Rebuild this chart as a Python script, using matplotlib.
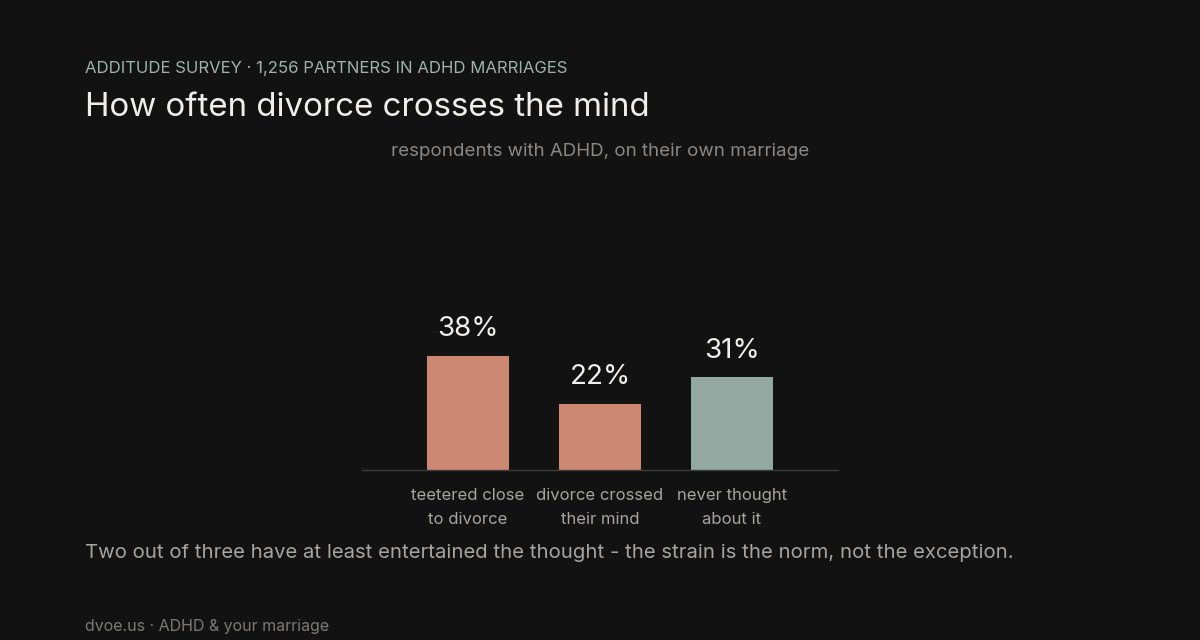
import matplotlib.pyplot as plt

# Data
categories = ["teetered close\nto divorce", "divorce crossed\ntheir mind", "never thought\nabout it"]
values = [38, 22, 31]
bar_colors = ["#CC8872", "#CC8872", "#93A8A0"]

bg = "#121212"
plt.rcParams['font.family'] = ['Inter', 'DejaVu Sans']

fig = plt.figure(figsize=(12, 6.4), dpi=100, facecolor=bg)
ax = fig.add_axes([362 / 1200, (640 - 470) / 640, 476 / 1200, 270 / 640])
ax.set_facecolor(bg)

x = list(range(len(values)))
ax.bar(x, values, width=0.62, color=bar_colors, zorder=2)
for xi, v in zip(x, values):
    ax.text(xi, v + 4.5, f"{v}%", ha="center", va="bottom",
            fontsize=20, color="#F2F0EC")

ax.set_xlim(-0.803, 2.803)
ax.set_ylim(0, 90)
ax.set_xticks(x)
ax.set_xticklabels(categories, fontsize=12, color="#A8A49E", linespacing=1.75)
ax.tick_params(axis="x", length=0, pad=13)
ax.set_yticks([])
for s in ["top", "right", "left"]:
    ax.spines[s].set_visible(False)
ax.spines["bottom"].set_color("#3C3C3C")
ax.spines["bottom"].set_linewidth(1)

# Header texts
fig.text(85 / 1200, 1 - 69 / 640, "ADDITUDE SURVEY \u00b7 1,256 PARTNERS IN ADHD MARRIAGES",
         fontsize=12, color="#9FB5AC", va="center", ha="left")
fig.text(85 / 1200, 1 - 108 / 640, "How often divorce crosses the mind",
         fontsize=23.8, color="#F0EEEA", va="center", ha="left")
fig.text(600 / 1200, 1 - 152 / 640, "respondents with ADHD, on their own marriage",
         fontsize=13.5, color="#8A8784", va="center", ha="center")

# Caption and footer
fig.text(85 / 1200, 1 - 553 / 640,
         "Two out of three have at least entertained the thought - the strain is the norm, not the exception.",
         fontsize=14.6, color="#A8A49E", va="center", ha="left")
fig.text(85 / 1200, 1 - 627 / 640, "dvoe.us \u00b7 ADHD & your marriage",
         fontsize=11.5, color="#7D7A75", va="center", ha="left")

fig.savefig("out.png", dpi=100, facecolor=bg)
